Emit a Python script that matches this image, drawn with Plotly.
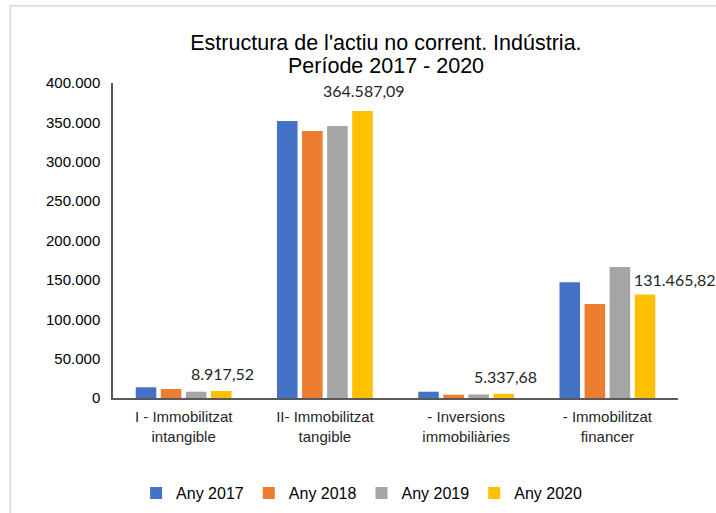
import plotly.graph_objects as go

categories = ["I - Immobilitzat<br>intangible", "II- Immobilitzat<br>tangible",
              "- Inversions<br>immobiliàries", "- Immobilitzat<br>financer"]
series_names = ["Any 2017", "Any 2018", "Any 2019", "Any 2020"]
values_2017 = [13600, 351700, 8000, 146900]
values_2018 = [11400, 339000, 4200, 119400]
values_2019 = [8000, 345400, 4500, 166300]
values_2020 = [8917.52, 364587.09, 5337.68, 131465.82]
tick_vals = [0, 50000, 100000, 150000, 200000, 250000, 300000, 350000, 400000]

colors = ["#4472C4", "#ED7D31", "#A5A5A5", "#FFC000"]
label_xshift = [39, 39, 39, 68]
label_yshift = [6, 9, 6, 3]


def fmt_es(v):
    s = f"{v:,.2f}"
    return s.replace(",", "X").replace(".", ",").replace("X", ".")


fig = go.Figure()
for name, vals, col in zip(series_names, [values_2017, values_2018, values_2019, values_2020], colors):
    fig.add_trace(go.Bar(name=name, x=categories, y=vals, marker_color=col,
                         marker_line_width=0))

for i, (c, v) in enumerate(zip(categories, values_2020)):
    fig.add_annotation(x=c, y=v, text=fmt_es(v), showarrow=False,
                       xref="x", yref="y", yanchor="bottom",
                       xshift=label_xshift[i], yshift=label_yshift[i],
                       font=dict(family="Lato, Carlito, sans-serif", size=16, color="#262626"))

title_font = dict(family="Liberation Sans, Arial, sans-serif", size=21.5, color="#000000")
fig.add_annotation(x=0.483, y=1.054, xref="paper", yref="paper", xanchor="center", yanchor="middle",
                   text="Període 2017 - 2020", showarrow=False, font=title_font)

fig.add_shape(type="rect", xref="paper", yref="paper",
              x0=-0.182, x1=1.3, y0=-0.6, y1=1.245,
              line=dict(color="#D9D9D9", width=1.5), fillcolor="rgba(0,0,0,0)", layer="below")

fig.update_layout(
    width=716, height=513,
    margin=dict(l=113, r=38, t=83, b=115, autoexpand=False),
    paper_bgcolor="white", plot_bgcolor="white",
    separators=",.",
    barmode="group", bargap=0.29, bargroupgap=0.18,
    font=dict(family="Liberation Sans, Arial, sans-serif", size=15, color="#262626"),
    title=dict(text="Estructura de l'actiu no corrent. Indústria.",
               x=0.539, xanchor="center", xref="container",
               y=1 - 42 / 513, yanchor="middle", yref="container",
               font=title_font),
    legend=dict(orientation="h", x=0.44, xanchor="center", y=-0.302, yanchor="middle",
                font=dict(size=16, color="#000000"), itemwidth=30,
                traceorder="normal"),
    showlegend=True,
)
fig.update_xaxes(range=[-0.5, 3.5], showline=True, linecolor="#595959", linewidth=2,
                 showgrid=False, ticks="outside", ticklen=4, tickcolor="rgba(0,0,0,0)",
                 tickfont=dict(size=15, color="#262626"))
fig.update_yaxes(range=[0, 400000], tickvals=tick_vals, tickformat=",d",
                 showline=True, linecolor="#595959", linewidth=1.5,
                 showgrid=False, zeroline=False,
                 ticks="outside", ticklen=8, tickcolor="rgba(0,0,0,0)",
                 tickfont=dict(size=15, color="#000000"))

fig.write_html("out.html", config={"displayModeBar": False},
               post_script="document.body.style.margin='0';")
